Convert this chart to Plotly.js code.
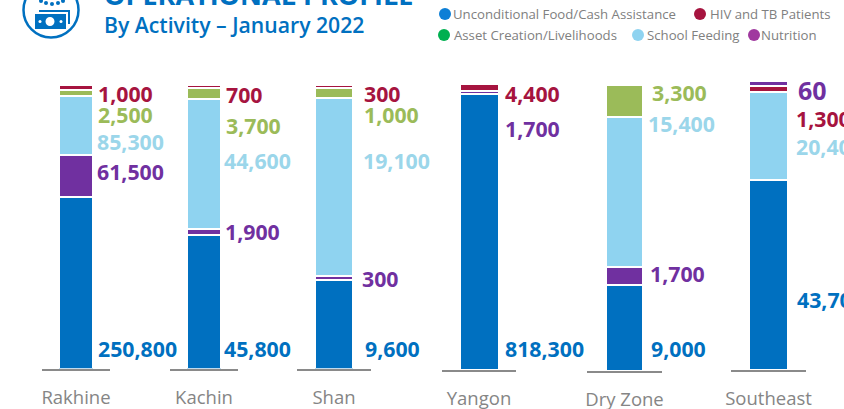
<!DOCTYPE html>
<html><head><meta charset="utf-8">
<script src="https://cdn.plot.ly/plotly-3.0.1.min.js"></script>
<style>html,body{margin:0;padding:0;background:#fff;overflow:hidden}#c{width:844px;height:409px}</style>
</head><body><div id="c"></div>
<script>
// Categories
const regions = ['Rakhine','Kachin','Shan','Yangon','Dry Zone','Southeast'];

// Printed beneficiary numbers, per region
const foodPrinted      = [250800,45800,9600,818300,9000,43700];
const nutritionPrinted = [61500,1900,300,1700,1700,60];
const schoolPrinted    = [85300,44600,19100,null,15400,20400];
const assetPrinted     = [2500,3700,1000,null,3300,null];
const hivPrinted       = [1000,700,300,4400,null,1300];

// Segment height, as % of each column
const foodShare      = [60.6,47.0,31.2,96.5,30.2,65.6];
const nutritionShare = [14.8,2.1,1.4,1.0,6.0,1.7];
const schoolShare    = [20.7,45.9,62.8,null,52.5,30.7];
const assetShare     = [2.1,3.9,3.4,null,11.3,null];
const hivShare       = [1.8,1.1,1.2,2.5,null,2.0];

// Layout (pixels)
const W = 844, H = 409;
const axisLeft  = [42,170,297,442,587,731];
const axisRight = [110,238,371,516,662,806];
const barPx     = [34,34,38,39,37,39];
const colTop    = [85,85,85,83.5,85,81];
const colBase   = [368.5,368.5,368.5,370,371,370];
const C = {food:'#0070c0',nutrition:'#7030a0',school:'#8fd3f0',asset:'#9bbb59',hiv:'#a6143f',schoolText:'#9bd6ea'};

const series = {
  food:{name:'Unconditional Food/Cash Assistance',share:foodShare,color:C.food},
  nutrition:{name:'Nutrition',share:nutritionShare,color:C.nutrition},
  school:{name:'School Feeding',share:schoolShare,color:C.school},
  asset:{name:'Asset Creation/Livelihoods',share:assetShare,color:C.asset},
  hiv:{name:'HIV and TB Patients',share:hivShare,color:C.hiv}
};
const defaultStack = ['food','nutrition','school','asset','hiv'];
const seStack = ['food','school','asset','hiv','nutrition'];

const px = x => x / W, py = y => 1 - y / H;
const data = [];
const layout = {
  width:W, height:H, margin:{l:0,r:0,t:0,b:0}, autosize:false,
  paper_bgcolor:'#fff', plot_bgcolor:'rgba(0,0,0,0)',
  barmode:'stack', barnorm:'percent', showlegend:false,
  font:{family:'"Open Sans", sans-serif'}, annotations:[], shapes:[]
};

regions.forEach((r,i) => {
  const s = i === 0 ? '' : String(i+1);
  (i === 5 ? seStack : defaultStack).forEach(k => {
    const v = series[k].share[i];
    if (v === null) return;
    data.push({type:'bar', name:series[k].name, x:[r], y:[v], xaxis:'x'+s, yaxis:'y'+s,
      width:[barPx[i]/(axisRight[i]-axisLeft[i])],
      marker:{color:series[k].color, line:{color:'#fff',width:2}}, hoverinfo:'skip'});
  });
  layout['xaxis'+s] = {domain:[px(axisLeft[i]),px(axisRight[i])], anchor:'y'+s, type:'category',
    range:[-0.5,0.5], fixedrange:true, showline:true, linecolor:'#8a8a8a', linewidth:2, showgrid:false,
    zeroline:false, ticks:'outside', ticklen:11, tickcolor:'rgba(0,0,0,0)', tickwidth:1,
    tickfont:{size:18.5,color:'#858585',family:'"Open Sans", sans-serif'}};
  layout['yaxis'+s] = {domain:[py(colBase[i]),py(colTop[i])], anchor:'x'+s, range:[0,100],
    fixedrange:true, visible:false};
});

// Value labels: [left px, centre px] per region
const fmt = n => n.toLocaleString('en-US');
const foodAt   = [[97.6,348],[223.6,348],[364.6,348],[504.6,348],[650.6,348],[796.6,299]];
const nutAt    = [[96.6,172],[224.6,231],[361.6,278],[504.6,129],[649.6,273],[797.6,90]];
const schoolAt = [[96.6,141],[223.6,160],[362.6,160],null,[647.6,123],[795.6,146]];
const assetAt  = [[97.6,114],[225.6,125],[363.6,114],null,[651.6,92],null];
const hivAt    = [[97.6,93],[225.6,94],[363.6,93],[504.6,93],null,[795.6,118]];
function labels(values, at, color){
  values.forEach((v,i) => {
    if (v === null) return;
    layout.annotations.push({xref:'paper',yref:'paper',x:px(at[i][0]),y:py(at[i][1]),xanchor:'left',yanchor:'middle',
      showarrow:false,borderpad:0,borderwidth:0,text:'<b>'+fmt(v)+'</b>',
      font:{size:v===60?25:21.3,color:color,family:'"Open Sans", sans-serif'}});
  });
}
labels(foodPrinted,foodAt,C.food);
labels(nutritionPrinted,nutAt,C.nutrition);
labels(schoolPrinted,schoolAt,C.schoolText);
labels(assetPrinted,assetAt,C.asset);
labels(hivPrinted,hivAt,C.hiv);

// Titles
const titleText = 'OPERATIONAL PROFILE', subtitleText = 'By Activity – January 2022';
layout.annotations.push({xref:'paper',yref:'paper',x:px(102),y:py(-5),xanchor:'left',yanchor:'middle',showarrow:false,
  text:'<b>'+titleText+'</b>',font:{size:27,color:C.food,family:'"Open Sans", sans-serif'}});
layout.annotations.push({xref:'paper',yref:'paper',x:px(102),y:py(24.5),xanchor:'left',yanchor:'middle',showarrow:false,
  text:subtitleText,font:{size:21.2,weight:600,color:C.food,family:'"Open Sans", sans-serif'}});

// Legend
const legendItems = [
  ['Unconditional Food/Cash Assistance','#0d7fd6',445,14,451],
  ['HIV and TB Patients','#a6143f',700,14,708],
  ['Asset Creation/Livelihoods','#00b050',444,35,452],
  ['School Feeding','#8fd3f0',638,35,645],
  ['Nutrition','#a0399f',754,35,759]
];
function circle(cx,cy,r,fill,line,lw){
  return {type:'circle',xref:'paper',yref:'paper',x0:px(cx-r),x1:px(cx+r),y0:py(cy+r),y1:py(cy-r),
    fillcolor:fill,line:{color:line||fill,width:lw||0}};
}
function rect(x0,y0,x1,y1,fill){
  return {type:'rect',xref:'paper',yref:'paper',x0:px(x0),x1:px(x1),y0:py(y1),y1:py(y0),fillcolor:fill,line:{width:0}};
}
legendItems.forEach(it => {
  layout.shapes.push(circle(it[2],it[3],6,it[1]));
  layout.annotations.push({xref:'paper',yref:'paper',x:px(it[4]),y:py(it[3]),xanchor:'left',yanchor:'middle',showarrow:false,
    text:it[0],font:{size:13.2,color:'#808080',family:'"Open Sans", sans-serif'}});
});

// Icon
layout.shapes.push(circle(51,10,27.5,'#fff',C.food,2.5));
layout.shapes.push(rect(39,10,70,12,C.food), rect(68,10,70,24,C.food));
layout.shapes.push(rect(35,14,66,29,C.food));
layout.shapes.push(circle(50,21.5,4.5,'#fff'), circle(40,21.5,1.5,'#fff'), circle(61,21.5,1.5,'#fff'));
[[41,1],[46,3],[52,4],[58,3],[63,1]].forEach(d => layout.shapes.push(circle(d[0],d[1],2,C.food)));

Plotly.newPlot('c',data,layout,{displayModeBar:false,staticPlot:true});
</script></body></html>
